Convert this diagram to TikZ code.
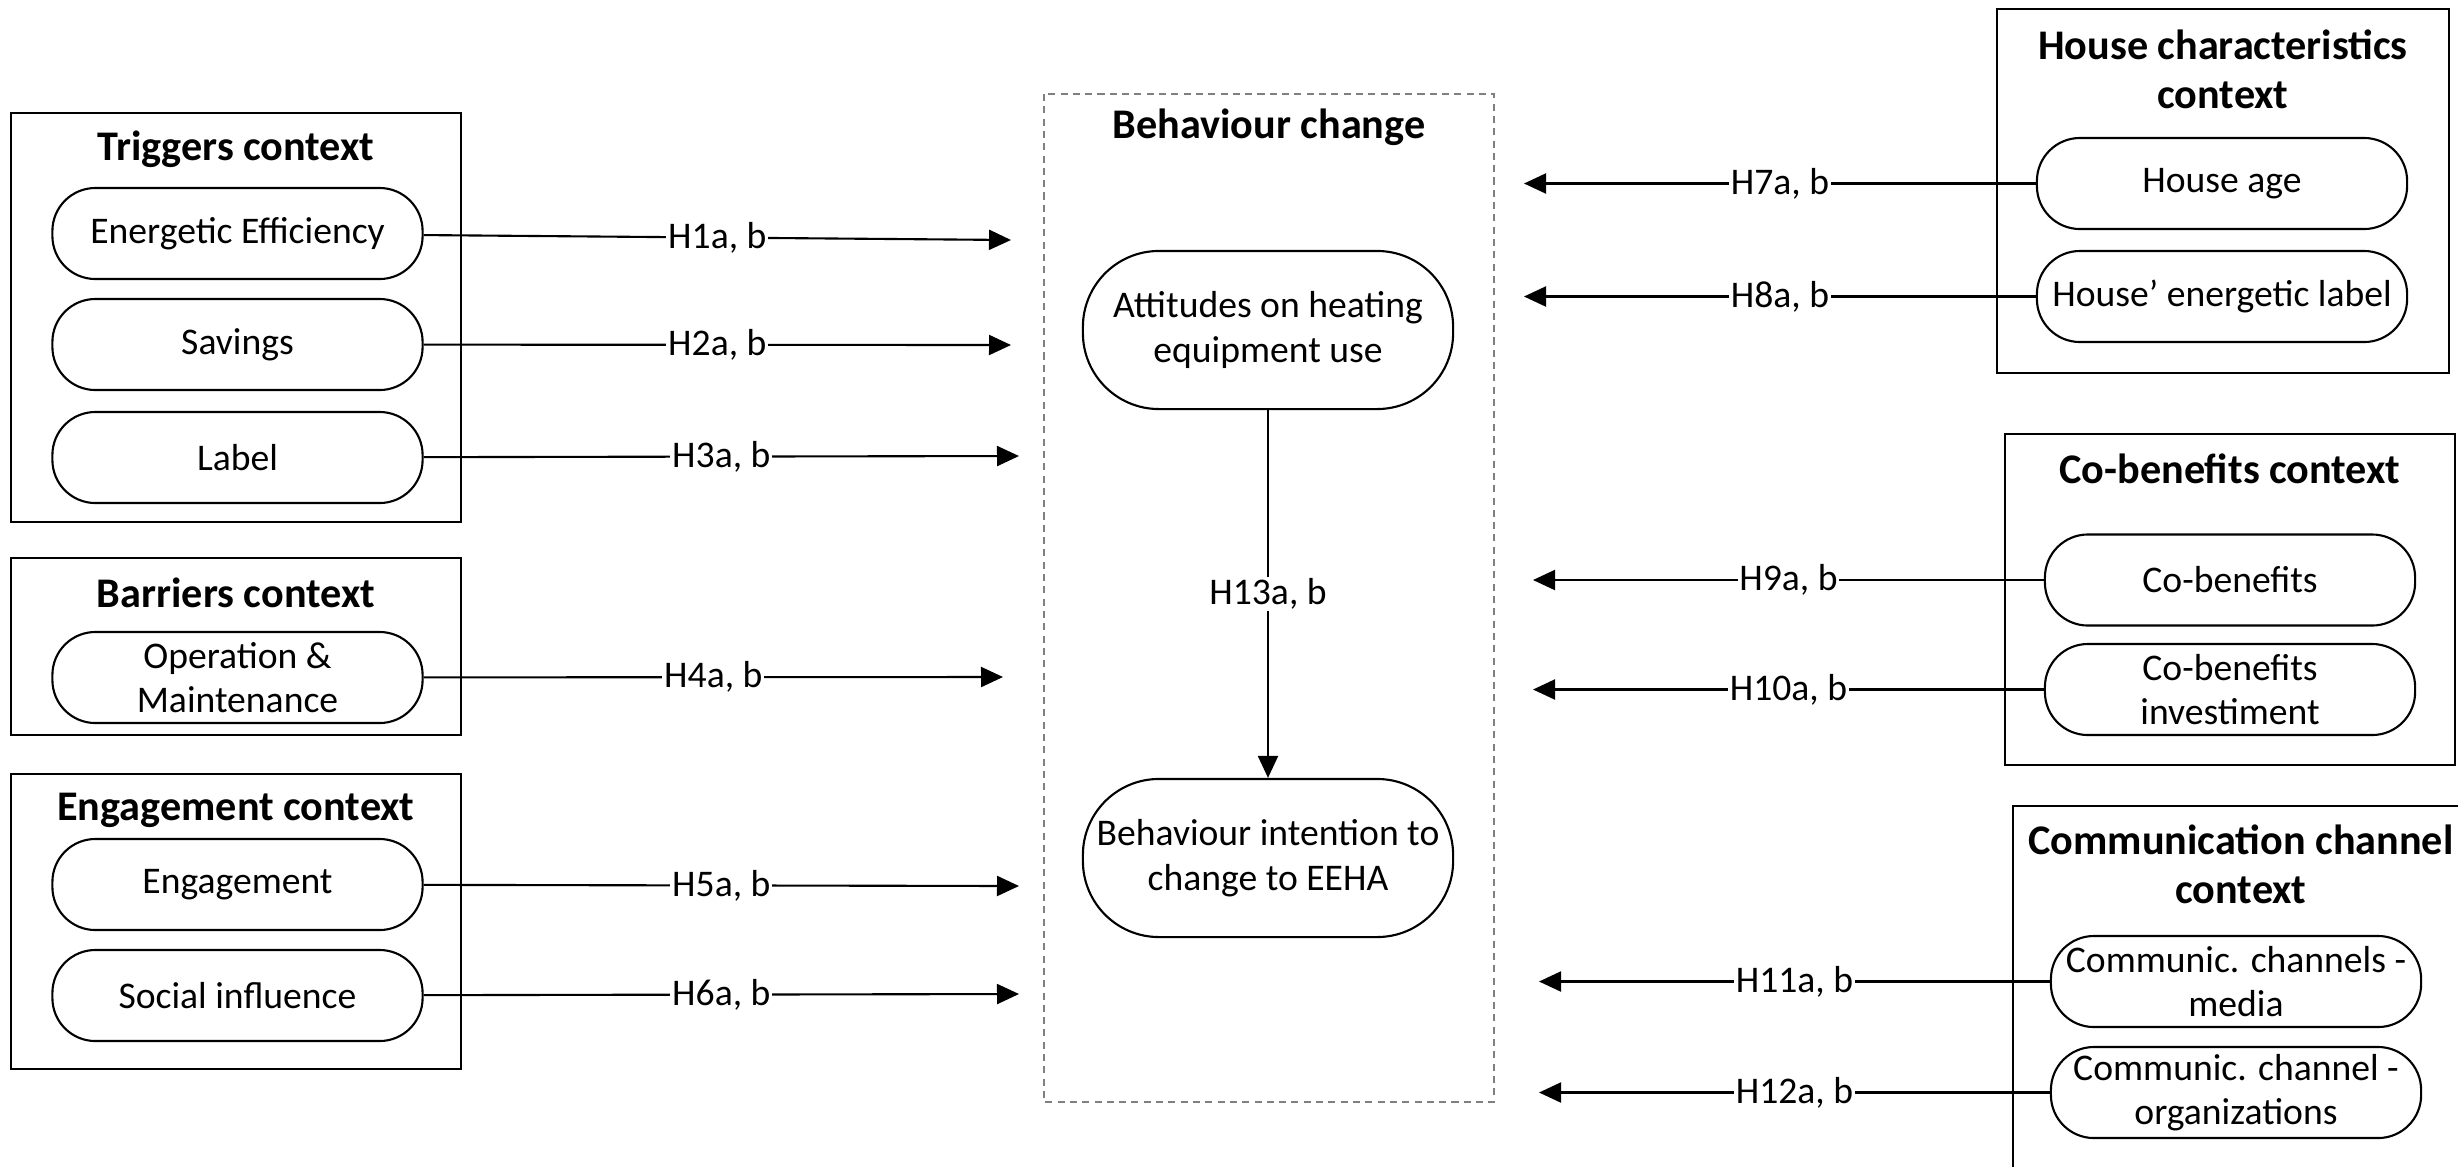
\documentclass[tikz,border=0pt]{standalone}
\usepackage{fontspec}
\setmainfont{Carlito}
\usetikzlibrary{arrows.meta}
\tikzset{
  ctxbox/.style={draw, line width=0.6pt},
  ctxtitle/.style={font=\fontsize{12}{14}\selectfont\bfseries, align=center, inner sep=0pt},
  pill/.style={draw, line width=0.6pt, rounded corners=0.43cm, minimum width=3.7cm,
    minimum height=0.91cm, align=center, inner sep=1pt, font=\fontsize{10.7}{12.6}\selectfont},
  bigpill/.style={pill, rounded corners=0.76cm, minimum height=1.58cm},
  hyp/.style={line width=0.6pt, -{Triangle[length=2.2mm, width=2mm]}},
  hyplabel/.style={fill=white, inner sep=0.5pt, font=\fontsize{10.7}{12.6}\selectfont}
}

\begin{document}
\begin{tikzpicture}[x=0.01cm, y=-0.01cm]
  \useasboundingbox (0,0) rectangle (2458,1166);

  % left contexts
  \draw[ctxbox] (11,113) rectangle (461,522);
  \node[ctxtitle] (trigT) at (236,149) {Triggers context};
  \draw[ctxbox] (11,558) rectangle (461,735);
  \node[ctxtitle] (barT) at (236,593) {Barriers context};
  \draw[ctxbox] (11,774) rectangle (461,1069);
  \node[ctxtitle] (engT) at (236,810) {Engagement context};

  \foreach \name/\y/\txt in {t1/233.5/Energetic Efficiency, t2/344.5/Savings, t3/457.5/Label,
      b1/677.5/{Operation \& \\ Maintenance}, e1/884.5/Engagement, e2/995.5/Social influence} {
    \node[pill] (\name) at (237.5,\y) {\txt};
  };

  % behaviour change
  \draw[line width=0.6pt, gray, dash pattern=on 2pt off 1.5pt] (1044,94) rectangle (1494,1102);
  \node[ctxtitle] (bcT) at (1269,127) {Behaviour change};
  \node[bigpill] (att) at (1268,330) {Attitudes on heating \\ equipment use};
  \node[bigpill] (int) at (1268,858) {Behaviour intention to \\ change to EEHA};
  \draw[hyp] (att) -- node[hyplabel] {H13a, b} (int);

  % right contexts
  \draw[ctxbox] (1997,9) rectangle (2449,373);
  \node[ctxtitle] (houseT) at (2223,69) {House characteristics \\ context};
  \draw[ctxbox] (2005,434) rectangle (2455,765);
  \node[ctxtitle] (cobT) at (2230,469) {Co-benefits context};
  \draw[ctxbox] (2013,806) rectangle (2475,1200);
  \node[ctxtitle] (comT) at (2241,864) {Communication channel \\ context};

  \foreach \name/\x/\y/\txt in {r7/2222/183.5/House age, r8/2222/296.5/House’ energetic label,
      r9/2230/580/Co-benefits, r10/2230/689.5/{Co-benefits \\ investiment},
      r11/2236/981.5/{Communic. channels - \\ media}, r12/2236/1092.5/{Communic. channel - \\ organizations}} {
    \node[pill] (\name) at (\x,\y) {\txt};
  };

  % hypotheses into behaviour change
  \foreach \src/\x/\y/\n in {t1/1011/240/1, t2/1011/345/2, t3/1019/456/3,
      b1/1003/677/4, e1/1019/886/5, e2/1019/994/6} {
    \coordinate (h\n) at (\x,\y);
    \draw[hyp] (\src) -- node[hyplabel] {H\n a, b} (h\n);
  };

  \foreach \x/\y/\n in {1524/183.5/7, 1524/296.5/8, 1533/580/9,
      1533/689.5/10, 1539/981.5/11, 1539/1092.5/12} {
    \coordinate (h\n) at (\x,\y);
    \draw[hyp] (r\n) -- node[hyplabel] {H\n a, b} (h\n);
  };

\end{tikzpicture}
\end{document}
